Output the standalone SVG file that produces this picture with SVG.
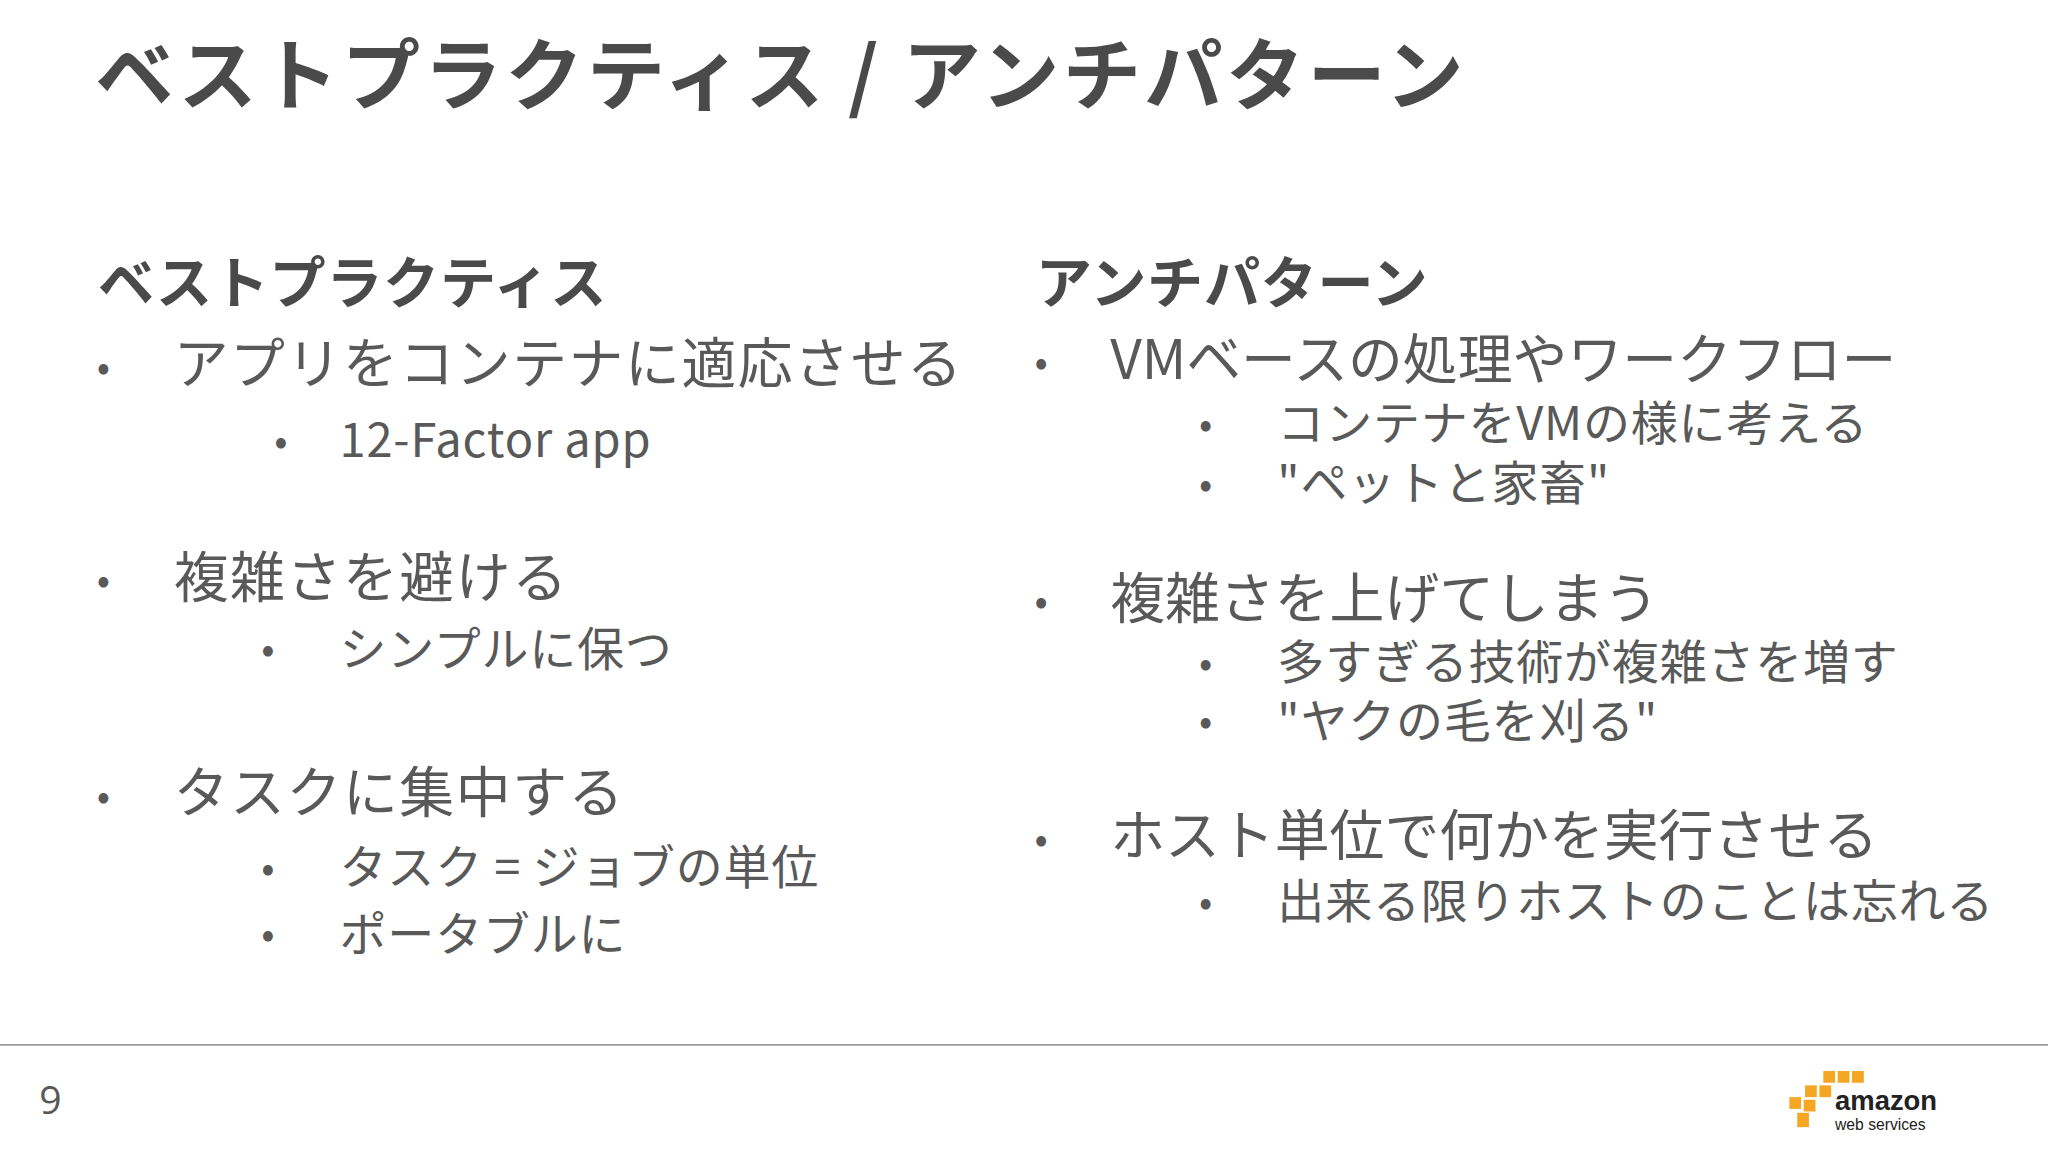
<svg xmlns="http://www.w3.org/2000/svg" width="2048" height="1152" viewBox="0 0 2048 1152">
<style>
text{font-family:"Noto Sans CJK JP","Noto Sans",sans-serif;fill:#595959}
.t{font-size:60px;font-weight:700;fill:#4a4a4a;letter-spacing:2.5px}
.h{font-size:43px;font-weight:700;fill:#4a4a4a;letter-spacing:0.5px}
.b{font-size:42px;letter-spacing:1.2px}
.s{font-size:36px;letter-spacing:0.6px}
.d{font-size:30px}
</style>
<rect width="2048" height="1152" fill="#fff"/>
<g transform="scale(1.3061)">
<g id="title"><text class="t" x="73" y="80">ベストプラクティス / アンチパターン</text></g>
<g id="left">
<text class="h" x="75" y="232">ベストプラクティス</text>
<text class="d" x="74" y="292">•</text><text class="b" x="133" y="293">アプリをコンテナに適応させる</text>
<text class="d" x="210" y="348">•</text><text class="s" x="260" y="350" font-family="Open Sans">12-Factor app</text>
<text class="d" x="74" y="455">•</text><text class="b" x="133" y="457">複雑さを避ける</text>
<text class="d" x="200" y="508">•</text><text class="s" x="260" y="510">シンプルに保つ</text>
<text class="d" x="74" y="620">•</text><text class="b" x="133" y="622">タスクに集中する</text>
<text class="d" x="200" y="675">•</text><text class="s" x="260" y="677">タスク = ジョブの単位</text>
<text class="d" x="200" y="726">•</text><text class="s" x="260" y="728">ポータブルに</text>
</g>
<g id="right">
<text class="h" x="793" y="232">アンチパターン</text>
<text class="d" x="792" y="288">•</text><text class="b" x="850" y="290" style="letter-spacing:0">VMベースの処理やワークフロー</text>
<text class="d" x="918" y="335">•</text><text class="s" x="978" y="337">コンテナをVMの様に考える</text>
<text class="d" x="918" y="381">•</text><text class="s" x="978" y="383">"ペットと家畜"</text>
<text class="d" x="792" y="471">•</text><text class="b" x="850" y="473" style="letter-spacing:0">複雑さを上げてしまう</text>
<text class="d" x="918" y="518">•</text><text class="s" x="978" y="520">多すぎる技術が複雑さを増す</text>
<text class="d" x="918" y="563">•</text><text class="s" x="978" y="565">"ヤクの毛を刈る"</text>
<text class="d" x="792" y="653">•</text><text class="b" x="850" y="655" style="letter-spacing:0">ホスト単位で何かを実行させる</text>
<text class="d" x="918" y="701">•</text><text class="s" x="978" y="703">出来る限りホストのことは忘れる</text>
</g>
<line x1="0" y1="800" x2="1568" y2="800" stroke="#999" stroke-width="1.2"/>
<text x="30" y="853" style="font-size:30px;font-family:'Open Sans',sans-serif">9</text>
<g id="logo">
<g fill="#f5a623">
<rect x="1396" y="820" width="9" height="9"/><rect x="1407" y="820" width="9" height="9"/><rect x="1418" y="820" width="9" height="9"/>
<rect x="1382" y="831" width="9" height="9"/><rect x="1393" y="831" width="9" height="9"/>
<rect x="1370" y="840" width="9" height="9"/><rect x="1381" y="842" width="9" height="9"/>
<rect x="1376" y="852" width="9" height="11"/>
</g>
<text x="1405" y="850" style="font-size:21px;font-weight:700;font-family:'Liberation Sans',sans-serif;fill:#222">amazon</text>
<text x="1405" y="865" style="font-size:12px;font-family:'Liberation Sans',sans-serif;fill:#222">web services</text>
</g>
</g>
</svg>
